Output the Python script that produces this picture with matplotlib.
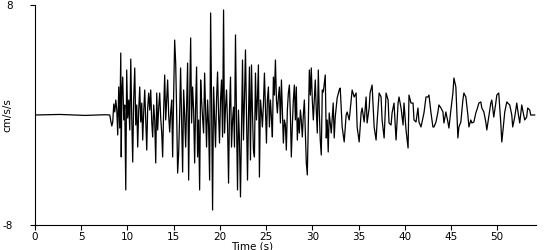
import numpy as np
import matplotlib.pyplot as plt

# accelerogram trace (time in s, acceleration in cm/s/s)
time_s = [
    0.0, 2.7, 5.4, 7.6, 8.09, 8.20, 8.31, 8.41, 8.52, 8.63, 8.74, 8.85, 8.95, 9.06, 9.17,
    9.28, 9.33, 9.39, 9.49, 9.60, 9.71, 9.82, 9.92, 10.03, 10.14, 10.25, 10.36, 10.47,
    10.57, 10.68, 10.79, 10.90, 11.01, 11.11, 11.22, 11.33, 11.44, 11.55, 11.65, 11.76,
    11.87, 11.98, 12.09, 12.19, 12.30, 12.41, 12.52, 12.63, 12.73, 12.84, 12.95, 13.06,
    13.17, 13.27, 13.38, 13.49, 13.60, 13.71, 13.81, 13.92, 14.03, 14.14, 14.25, 14.35,
    14.46, 14.57, 14.68, 14.79, 14.89, 15.00, 15.11, 15.22, 15.32, 15.43, 15.54, 15.65,
    15.75, 15.86, 15.97, 16.08, 16.19, 16.30, 16.40, 16.51, 16.62, 16.73, 16.84, 16.94,
    17.05, 17.16, 17.27, 17.38, 17.48, 17.59, 17.70, 17.81, 17.92, 18.02, 18.13, 18.24,
    18.35, 18.46, 18.56, 18.67, 18.78, 18.89, 19.00, 19.10, 19.21, 19.32, 19.43, 19.53,
    19.64, 19.75, 19.86, 19.96, 20.07, 20.18, 20.29, 20.40, 20.50, 20.61, 20.72, 20.83,
    20.94, 21.04, 21.15, 21.26, 21.37, 21.48, 21.58, 21.69, 21.80, 21.91, 22.01, 22.12,
    22.23, 22.34, 22.45, 22.55, 22.66, 22.77, 22.88, 22.99, 23.09, 23.20, 23.31, 23.42,
    23.52, 23.63, 23.74, 23.85, 23.96, 24.06, 24.17, 24.28, 24.39, 24.50, 24.60, 24.71,
    24.82, 24.93, 25.04, 25.14, 25.25, 25.36, 25.47, 25.58, 25.68, 25.79, 25.90, 26.01,
    26.12, 26.22, 26.33, 26.44, 26.55, 26.66, 26.76, 26.87, 26.98, 27.09, 27.19, 27.30,
    27.41, 27.52, 27.63, 27.73, 27.84, 27.95, 28.06, 28.17, 28.27, 28.38, 28.49, 28.60,
    28.71, 28.81, 28.92, 29.03, 29.14, 29.25, 29.35, 29.46, 29.57, 29.68, 29.79, 29.89,
    30.00, 30.11, 30.22, 30.32, 30.43, 30.54, 30.65, 30.75, 30.86, 30.97, 31.08, 31.19,
    31.40, 31.51, 31.61, 31.72, 31.83, 32.05, 32.26, 32.37, 32.48, 32.69, 32.91, 33.02,
    33.23, 33.45, 33.66, 33.77, 33.99, 34.10, 34.31, 34.53, 34.74, 34.85, 35.07, 35.28,
    35.39, 35.61, 35.82, 35.93, 36.15, 36.25, 36.47, 36.69, 36.90, 37.01, 37.23, 37.44,
    37.55, 37.77, 37.98, 38.20, 38.30, 38.52, 38.63, 38.84, 39.06, 39.28, 39.38, 39.60,
    39.82, 39.92, 40.14, 40.36, 40.46, 40.68, 40.90, 41.00, 41.22, 41.43, 41.54, 41.76,
    41.97, 42.08, 42.30, 42.51, 42.62, 42.84, 43.05, 43.16, 43.38, 43.59, 43.70, 43.92,
    44.13, 44.24, 44.45, 44.67, 44.78, 44.99, 45.21, 45.32, 45.53, 45.75, 45.86, 46.07,
    46.29, 46.40, 46.61, 46.83, 46.94, 47.15, 47.26, 47.48, 47.69, 47.80, 48.02, 48.23,
    48.34, 48.56, 48.77, 48.88, 49.09, 49.31, 49.42, 49.63, 49.85, 49.96, 50.17, 50.39,
    50.50, 50.61, 50.82, 51.04, 51.14, 51.36, 51.58, 51.68, 51.90, 52.12, 52.22, 52.44,
    52.66, 52.76, 52.98, 53.19, 53.30, 53.52, 53.63, 54.06,
]
accel = [
    0.0, 0.04, -0.03, 0.02, 0.0, -0.44, -0.80, -0.51, 0.80, 0.22, 1.09, 0.36, -1.45, 2.04, -0.95,
    4.51, -3.05, 1.45, 2.76, -0.36, 0.73, -5.45, 3.27, -0.22, 1.09, -1.09, 4.07, -0.36,
    -3.42, 1.24, 3.42, -0.73, 0.73, -2.33, 0.36, 2.04, -0.51, 0.87, -1.82, 0.22,
    1.82, -0.36, -2.55, 0.51, 1.60, 0.36, 1.82, -0.51, -1.60, 0.73, -0.36, -3.49,
    1.60, -1.09, 0.51, 1.60, -0.22, -1.31, -3.05, 0.36, 2.91, -0.36, 1.09, 2.55,
    0.0, -1.24, 0.22, 1.09, -3.05, 1.45, 5.45, 3.78, 0.36, -4.22, -2.80, 0.0,
    3.42, -0.36, -4.15, 1.82, 0.0, -2.33, 0.73, 3.78, -4.73, 1.09, 5.60, -0.58,
    2.04, 0.36, -3.49, 0.73, 3.49, -3.05, -0.36, -5.45, 2.55, 1.09, -0.22, -1.31,
    3.05, 0.36, -2.33, 1.09, -0.73, -4.73, 7.42, 1.09, -6.91, 2.04, -0.36, -2.33,
    1.09, 3.13, 0.0, -2.04, 1.09, 2.55, -1.60, 7.64, -1.31, 0.51, 1.82, -0.73,
    -4.95, 0.36, 2.76, -2.33, -0.36, 0.58, -2.33, 5.82, -0.36, -5.45, 0.36, -1.82,
    -5.96, -1.09, 4.00, -1.82, 1.09, 4.73, 0.0, -4.73, -0.36, 3.49, -3.27, 3.64,
    0.36, -2.55, -3.05, 3.05, -0.36, 1.09, 3.64, -4.51, 1.09, 0.22, -0.87, 0.73,
    3.05, 0.36, -2.04, 1.09, 2.04, -0.87, 1.09, -0.22, -1.60, 2.76, 1.45, 4.00,
    1.09, 0.15, 1.31, 2.04, -0.58, 2.55, 0.36, -2.04, -0.36, -0.73, -2.55, 0.36,
    1.60, 2.18, 0.0, -3.05, -0.73, 1.09, 2.18, -0.36, 2.04, -1.82, -0.22, -1.31,
    0.36, -0.36, -1.60, 0.0, 1.09, -1.45, -3.49, -4.36, -0.36, 3.27, 1.45, 3.42,
    1.09, -0.36, 1.09, 2.55, 0.36, -1.31, 3.27, 0.36, -1.82, -2.91, 1.82, 1.67,
    2.91, -1.67, -0.36, -2.69, 0.15, -1.31, 0.87, -1.67, -0.15, 1.24, 1.82, 1.96,
    -0.87, -1.96, 0.0, 0.22, -0.36, 0.36, 1.82, 1.31, 1.60, -0.87, -1.96, 0.15,
    0.51, -0.51, 1.31, -0.58, 0.51, 1.60, 2.18, -0.87, -1.82, -0.51, 1.60, 1.31,
    -0.36, -1.67, 1.60, 1.09, -0.58, -0.73, 0.15, 0.87, -1.82, 0.87, 1.31, 0.51,
    -0.73, 0.87, -1.09, -2.40, 1.45, 0.87, 0.87, -0.36, -0.51, 0.51, -0.51, -0.87,
    -0.22, 0.15, 1.31, 1.31, 1.45, 0.15, -0.87, -0.87, -0.51, 0.22, 0.73, 0.51,
    0.22, -0.58, 0.22, -0.51, -0.95, 0.36, 1.60, 2.69, 2.04, -1.67, -0.87, -0.51,
    1.09, 1.60, 1.31, 0.0, -0.87, -0.36, -0.58, -0.51, 0.15, 0.36, 0.87, 0.95,
    0.51, 0.22, -0.51, -1.09, -0.15, 0.87, 1.09, -0.15, 0.87, 1.45, 1.60, -0.58,
    -1.96, -1.24, 0.22, 0.95, 0.87, 0.73, 0.0, -0.87, -0.15, 0.87, 0.36, -0.58,
    0.73, 0.36, -0.36, -0.15, 0.51, 0.36, 0.0, 0.0,
]
x_ticks = [0, 5, 10, 15, 20, 25, 30, 35, 40, 45, 50]
y_ticks = [-8, 8]
y_tick_labels = ['-8', '8']

fig = plt.figure(figsize=(5.5, 2.5), dpi=100)
ax = fig.add_axes([35 / 550, 0.1, 501 / 550, 0.88])

ax.plot(time_s, accel, color='black', linewidth=0.9)

ax.set_xlim(0, 54.2)
ax.set_ylim(-8, 8)
ax.set_xticks(x_ticks)
ax.set_yticks(y_ticks)
ax.set_yticklabels(y_tick_labels)
ax.tick_params(axis='x', length=3.6, width=0.8, pad=1.5, labelsize=7.5)
ax.tick_params(axis='y', length=3.6, width=0.8, pad=12, labelsize=7.5)

for side in ['top', 'right']:
    ax.spines[side].set_visible(False)
for side in ['left', 'bottom']:
    ax.spines[side].set_linewidth(0.8)

ax.set_xlabel('Time (s)', fontsize=7.5, labelpad=0)
ax.xaxis.set_label_coords((252 - 35) / 501, -0.075)
ax.set_ylabel('cm/s/s', fontsize=7.5)
ax.yaxis.set_label_coords(-23 / 501, 0.5)

fig.savefig('out.png', dpi=100)
